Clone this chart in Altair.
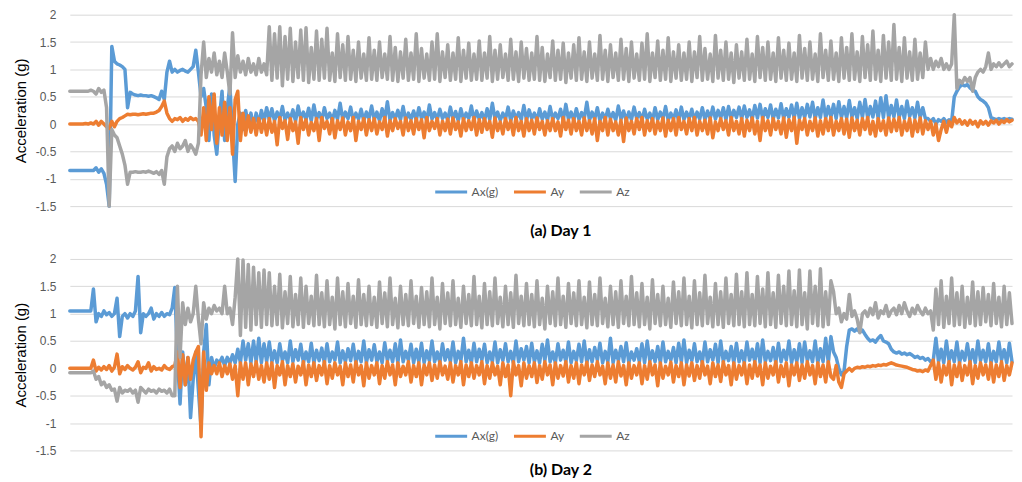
import altair as alt
import pandas as pd

# Acceleration values are typed in hundredths of g (centi-g) and converted to g.
series_names = ["Ax(g)", "Ay", "Az"]
series_colors = ["#5B9BD5", "#ED7D31", "#A5A5A5"]
y_ticks = [-1.5, -1, -0.5, 0, 0.5, 1, 1.5, 2]
panel_titles = ["(a) Day 1", "(b) Day 2"]

# ---------------- Day 1 ----------------
d1_ax_start = [
    -85, -85, -85, -85, -85, -85, -85, -85, -85, -85,
    -80, -88, -82, -90, -110, -150, 142, 115, 110, 108,
    105, 100, 30, 58, 55, 53, 52, 53, 52, 52,
    51, 52, 50, 48, 45, 60, 45, 95, 115, 95,
    100, 95, 98, 100, 97, 95, 100, 105, 135, 95,
]
d1_ax_mid = [
    50, 65, 30, -30, 55, -20, -55, 10, 60, -30, 30, 70, -20, -105, 0, 20,
    -10, 25, 0, 20, -5, 20, 0, 25, 5, 30,
]
d1_ax_band = [
    8, 28, 6, 22, 10, 32, 7, 20, 9, 26, 5, 33, 10, 22, 8, 29, 6, 35, 9, 21,
    7, 30, 10, 20, 6, 25, 9, 38, 8, 22, 10, 31, 7, 20, 9, 27, 6, 22, 10, 33,
    8, 22, 6, 28, 9, 41, 7, 21, 10, 25, 8, 32, 6, 20, 9, 24, 7, 30, 10, 22,
    6, 35, 9, 21, 8, 27, 10, 20, 7, 31, 9, 23, 6, 28, 8, 20, 10, 33, 7, 24,
    9, 21, 6, 28, 8, 38, 10, 22, 7, 20, 9, 31, 6, 24, 10, 21, 8, 34, 7, 26,
    10, 20, 6, 28, 9, 22, 7, 32, 8, 20, 10, 27, 6, 36, 9, 22, 7, 28, 8, 21,
    10, 40, 7, 22, 9, 30, 6, 20, 8, 27, 10, 21, 7, 33, 9, 24, 6, 22, 8, 31,
    10, 21, 7, 27, 9, 20, 6, 30, 8, 22, 10, 32, 7, 20, 9, 26, 6, 31, 8, 22,
    10, 27, 7, 22, 9, 30, 8, 24, 10, 31, 9, 25, 11, 30, 8, 32, 10, 25, 12, 31,
    10, 33, 12, 26, 9, 34, 11, 36, 10, 28, 12, 35, 9, 27, 11, 37, 10, 28, 12, 35,
    11, 38, 10, 30, 12, 36, 13, 40, 10, 30, 12, 44, 11, 32, 13, 36, 10, 41, 12, 32,
    11, 43, 13, 30, 10, 40, 12, 45, 11, 32, 13, 42, 10, 48, 12, 52, 11, 34, 13, 44,
    12, 32, 10, 42, 14, 30, 11, 40, 12, 30, 10,
]
d1_ax_end = [
    10, 5, 10, 0, 8, 5, 10, 3, 8, 5, 50, 60, 68, 72, 70, 72, 66,
    62, 60, 50, 45, 42, 38, 30, 12, 10, 8, 10, 8, 10, 8, 10, 9,
]

d1_ay_start = [
    0, 0, 0, 0, 0, 0, 1, 0, 2, 0,
    5, -2, 5, 0, -5, -8, 5, -5, 5, 10,
    12, 15, 18, 17, 18, 18, 17, 18, 19, 18,
    19, 20, 20, 22, 25, 32, 42, 20, 10, 5,
    10, 8, 12, 5, 10, 7, 12, 8, 10, 5,
]
d1_ay_mid = [
    -20, 30, -30, 50, -10, 55, -35, 30, -20, 40, -30, 30, -55, 45, 60, -30,
    20, -20, 15, -15, 10, -20, 10, -15, 8, -20,
]
d1_ay_band = [
    10, -15, 5, -38, 12, -8, 6, -28, 10, -12, 4, -35, 12, -10, 8, -20, 3, -12, 10, -30,
    12, -8, 5, -18, 10, -25, 6, -10, 11, -20, 4, -12, 12, -30, 5, -10, 10, -20, 8, -12,
    10, -18, 4, -10, 12, -22, 6, -12, 10, -8, 5, -20, 11, -12, 6, -18, 10, -10, 8, -25,
    12, -12, 5, -8, 10, -20, 5, -12, 9, -18, 11, -10, 4, -22, 10, -12, 6, -10, 12, -20,
    8, -15, 10, -10, 5, -24, 11, -12, 4, -18, 10, -10, 6, -20, 12, -12, 5, -22, 10, -12,
    7, -18, 11, -10, 5, -20, 6, -12, 10, -12, 4, -22, 12, -10, 7, -18, 10, -12, 5, -20,
    11, -12, 6, -18, 10, -30, 5, -12, 12, -20, 9, -12, 4, -20, 7, -32, 11, -12, 5, -18,
    10, -10, 12, -20, 6, -12, 10, -18, 5, -12, 11, -22, 7, -12, 10, -20, 12, -10, 5, -18,
    10, -12, 12, -20, 5, -12, 7, -18, 11, -25, 4, -12, 10, -10, 6, -20, 12, -12, 5, -18,
    10, -22, 7, -12, 11, -18, 5, -30, 12, -12, 6, -20, 10, -10, 5, -18, 11, -24, 8, -12,
    12, -35, 7, -10, 10, -20, 5, -12, 11, -22, 6, -18, 10, -12, 12, -20, 5, -12, 10, -18,
    9, -24, 11, -12, 7, -20, 10, -10, 12, -18, 5, -22, 10, -12, 6, -20, 11, -14, 9, -12,
    12, -20, 5, -12, 10, -22, 7, -14, 11, -18, 6,
]
d1_ay_end = [
    -10, 5, -20, 0, -30, -10, 5, -15, 5, -5, 12, 2, 8, 0, 6, -2, 7,
    0, 5, -5, 6, 0, 5, -2, 6, 2, 7, 0, 6, 3, 8, 4, 7,
]

d1_az_start = [
    60, 60, 60, 60, 60, 60, 60, 60, 62, 60,
    55, 65, 58, 62, 30, -150, -10, -20, -25, -40,
    -55, -75, -110, -88, -88, -87, -88, -88, -87, -88,
    -86, -88, -90, -87, -92, -85, -110, -60, -45, -40,
    -50, -35, -45, -40, -30, -50, -38, -45, -55, -35,
]
d1_az_mid = [
    90, 150, 85, 120, 95, 130, 90, 115, 85, 130, 95, 55, 167, 85, 125, 95,
    115, 90, 120, 95, 110, 90, 120, 95, 110, 90,
]
d1_az_band = [
    178, 80, 165, 84, 178, 70, 160, 82, 175, 78, 150, 85, 172, 80, 176, 76, 140, 82, 170, 80,
    155, 84, 175, 80, 130, 78, 165, 85, 145, 80, 160, 82, 135, 78, 150, 84, 128, 80, 158, 82,
    135, 80, 150, 85, 128, 82, 160, 80, 140, 78, 132, 84, 155, 80, 130, 82, 165, 78, 138, 84,
    128, 80, 150, 82, 165, 78, 132, 85, 145, 80, 130, 82, 158, 78, 135, 84, 148, 80, 128, 82,
    152, 80, 130, 84, 160, 78, 135, 82, 145, 85, 128, 80, 155, 82, 132, 78, 150, 84, 138, 80,
    130, 82, 160, 80, 140, 78, 128, 85, 152, 80, 135, 82, 148, 76, 130, 84, 145, 80, 158, 82,
    132, 78, 150, 84, 128, 80, 162, 82, 135, 78, 145, 85, 130, 80, 155, 82, 138, 78, 150, 84,
    128, 80, 148, 82, 165, 78, 130, 85, 152, 80, 135, 82, 158, 78, 132, 84, 145, 80, 130, 82,
    150, 78, 132, 85, 160, 80, 138, 82, 128, 78, 162, 84, 135, 80, 150, 82, 130, 76, 145, 84,
    132, 80, 155, 82, 128, 78, 160, 85, 140, 80, 150, 82, 130, 78, 158, 84, 135, 80, 148, 82,
    130, 78, 162, 84, 138, 80, 150, 82, 128, 78, 165, 85, 135, 80, 152, 82, 130, 78, 158, 84,
    140, 80, 165, 82, 132, 78, 160, 85, 145, 80, 170, 82, 135, 78, 162, 84, 150, 80, 182, 82,
    140, 78, 158, 84, 132, 80, 155, 82, 130, 85, 150,
]
d1_az_end = [
    100, 120, 100, 115, 105, 120, 100, 110, 100, 110, 200, 65, 80, 75, 85, 78, 85,
    60, 85, 95, 100, 95, 105, 130, 100, 110, 105, 112, 105, 110, 115, 105, 110,
]

# ---------------- Day 2 ----------------
d2_ax_start = [
    105, 105, 105, 105, 105, 105, 105, 105, 105, 145,
    85, 100, 95, 105, 98, 102, 95, 100, 128, 58,
    95, 100, 92, 100, 95, 105, 168, 65, 100, 95,
    100, 110, 90, 100, 95, 102, 95, 100, 98, 110,
    148, 20, -65, 30, -30, 20, -90, -20, 30, -40,
]
d2_ax_mid = [
    -108, 30, 80, -30, 20, 0, 15, 10, 20, 5, 20, 10, 25, 10, 35, 10,
    50, 15, 45, 10, 50, 12, 55, 10, 45, 12,
]
d2_ax_band = [
    48, 12, 32, 10, 45, 14, 30, 10, 50, 12, 34, 15, 44, 10, 30, 12, 46, 10, 33, 14,
    37, 10, 45, 12, 30, 15, 48, 10, 32, 12, 36, 14, 44, 10, 31, 12, 50, 10, 34, 15,
    43, 12, 30, 10, 47, 14, 33, 12, 45, 10, 52, 12, 31, 15, 44, 10, 35, 12, 46, 10,
    32, 14, 50, 12, 30, 10, 45, 15, 34, 12, 48, 10, 31, 14, 55, 12, 33, 10, 46, 12,
    35, 15, 44, 10, 30, 12, 48, 10, 34, 14, 45, 12, 31, 10, 50, 12, 36, 15, 40, 10,
    46, 12, 32, 10, 44, 14, 52, 12, 30, 10, 45, 15, 33, 12, 48, 10, 31, 14, 44, 12,
    50, 10, 34, 12, 38, 15, 46, 10, 31, 12, 55, 10, 33, 14, 40, 12, 47, 10, 30, 15,
    36, 12, 45, 10, 50, 14, 32, 12, 40, 10, 48, 12, 31, 15, 38, 10, 46, 12, 52, 10,
    33, 14, 45, 12, 30, 10, 48, 12, 34, 15, 44, 10, 50, 12, 31, 14, 40, 10, 46, 12,
    32, 10, 48, 15, 35, 12, 45, 10, 52, 12, 31, 14, 38, 10, 46, 12, 33, 15, 50, 10,
    34, 12, 45, 10, 48, 14, 32, 12, 50, 10, 36, 12, 55, 10, 58,
]
d2_ax_calm = [
    30, 20, 0, -12, -5, 40, 70, 72, 68, 72, 66, 70, 62, 55, 50, 52, 48, 55, 60, 50,
    48, 45, 35, 30, 28, 30, 26, 28, 25, 27, 24, 20, 22, 18, 20, 15, 18, 12, 15,
]
d2_ax_end = [
    55, 12, 35, 10, 50, 14, 32, 12, 48, 10, 31, 15, 45, 12, 34,
    10, 50, 14, 33, 12, 45, 10, 31, 12, 48, 15, 34, 10, 46, 12,
]

d2_ay_start = [
    0, 0, 0, 0, 0, 0, 0, 0, 0, 15,
    -5, 2, -3, 3, -2, 5, -5, 2, 26, -10,
    3, -2, 5, 0, -3, 2, 12, -8, 2, 0,
    10, -5, 3, -2, 0, -3, 5, 0, -2, 3,
    5, 30, -35, 25, -30, 20, -20, 15, 30, 40,
]
d2_ay_mid = [
    -125, 30, -40, 10, -10, 5, -10, 10, -15, 5, -10, 8, -20, 5, -50, 10,
    -20, 10, -30, 8, -15, 12, -20, 5, -25, 10,
]
d2_ay_band = [
    -20, 10, -35, 5, -12, 12, -30, 5, -15, 8, -25, 4, -12, 12, -30, 6, -15, 10, -22, 5,
    -12, 12, -28, 5, -18, 10, -12, 4, -30, 10, -15, 6, -25, 12, -12, 5, -32, 10, -18, 5,
    -12, 10, -28, 5, -18, 12, -12, 6, -30, 10, -15, 4, -12, 12, -25, 5, -15, 10, -30, 6,
    -12, 10, -22, 6, -18, 12, -12, 4, -20, 10, -25, 5, -12, 12, -30, 6, -15, 10, -18, 5,
    -12, 12, -28, 5, -18, 10, -12, 4, -30, 10, -15, 6, -50, 12, -12, 5, -32, 10, -18, 5,
    -15, 10, -26, 5, -20, 12, -12, 6, -30, 10, -18, 5, -14, 12, -25, 5, -18, 10, -28, 6,
    -12, 11, -22, 6, -15, 12, -12, 4, -28, 10, -18, 6, -25, 12, -14, 5, -30, 10, -18, 5,
    -12, 10, -28, 5, -20, 12, -12, 6, -32, 10, -18, 4, -12, 11, -25, 5, -15, 10, -30, 6,
    -14, 10, -22, 5, -18, 12, -12, 4, -28, 10, -15, 6, -24, 12, -12, 5, -30, 10, -20, 5,
    -12, 10, -28, 6, -18, 12, -14, 6, -30, 10, -18, 4, -12, 12, -25, 5, -15, 10, -32, 6,
    -12, 10, -22, 6, -18, 12, -12, 5, -28, 10, -15, 6, -25, 12, -15,
]
d2_ay_calm = [
    -20, 5, -25, -35, -10, -5, 0, -5, 0, 2, 1, 3, 2, 4, 3, 5, 4, 6, 5, 7,
    6, 8, 10, 8, 6, 5, 4, 3, 2, 0, -2, -3, -5, -4, -6, -3, -5, 5, 15,
]
d2_ay_end = [
    -20, 10, -25, 5, -12, 12, -30, 6, -15, 10, -22, 5, -12, 12, -28,
    5, -18, 10, -12, 6, -20, 10, -25, 6, -15, 12, -22, 5, -12, 10,
]

d2_az_start = [
    -8, -8, -8, -8, -8, -8, -8, -8, -8, -5,
    -20, -15, -30, -25, -35, -30, -40, -38, -60, -35,
    -45, -40, -42, -38, -45, -40, -62, -35, -40, -45,
    -38, -42, -40, -45, -38, -42, -40, -45, -38, -50,
    -50, 150, 20, 120, 80, 110, 85, 100, 150, 90,
]
d2_az_mid = [
    45, 120, 90, 110, 100, 115, 105, 110, 100, 150, 100, 110, 80, 130, 200, 60,
    198, 75, 190, 70, 185, 80, 175, 75, 180, 80,
]
d2_az_band = [
    175, 78, 150, 80, 172, 74, 140, 82, 168, 76, 135, 80, 165, 75, 150, 82, 132, 78, 170, 80,
    138, 76, 160, 80, 130, 72, 165, 80, 140, 76, 155, 82, 132, 75, 162, 80, 135, 78, 150, 80,
    130, 75, 158, 82, 138, 76, 165, 80, 128, 74, 150, 80, 135, 78, 160, 82, 132, 75, 148, 80,
    140, 76, 165, 80, 130, 72, 155, 82, 138, 78, 160, 80, 128, 75, 150, 82, 135, 78, 168, 80,
    132, 74, 155, 80, 140, 78, 165, 82, 130, 76, 150, 80, 138, 75, 170, 82, 132, 78, 155, 80,
    135, 76, 160, 80, 128, 72, 150, 82, 140, 78, 165, 80, 132, 75, 155, 82, 138, 78, 160, 80,
    130, 74, 158, 80, 135, 78, 165, 82, 128, 76, 150, 80, 140, 75, 160, 82, 132, 78, 168, 80,
    138, 76, 155, 80, 130, 72, 162, 82, 135, 78, 150, 80, 128, 75, 158, 82, 140, 78, 165, 80,
    132, 74, 160, 80, 138, 78, 170, 82, 130, 76, 155, 80, 140, 75, 165, 82, 135, 78, 172, 80,
    140, 76, 175, 80, 135, 78, 168, 82, 145, 76, 175, 80, 138, 75, 170, 82, 150, 78, 178, 80,
    142, 76, 180, 80, 138, 72, 178, 82, 150, 78, 182, 76, 140, 80, 160,
]
d2_az_calm = [
    140, 100, 110, 85, 100, 90, 135, 95, 105, 90, 65, 100, 105, 95, 110, 98, 120, 92, 105, 100,
    115, 95, 105, 110, 98, 115, 100, 120, 105, 95, 110, 100, 115, 105, 98, 110, 100, 105, 70,
]
d2_az_end = [
    145, 80, 160, 75, 132, 82, 165, 78, 138, 80, 150, 75, 130, 82, 158,
    78, 140, 80, 148, 85, 135, 78, 155, 82, 130, 76, 150, 80, 138, 82,
]

day1 = [
    d1_ax_start + d1_ax_mid + d1_ax_band + d1_ax_end,
    d1_ay_start + d1_ay_mid + d1_ay_band + d1_ay_end,
    d1_az_start + d1_az_mid + d1_az_band + d1_az_end,
]
day2 = [
    d2_ax_start + d2_ax_mid + d2_ax_band + d2_ax_calm + d2_ax_end,
    d2_ay_start + d2_ay_mid + d2_ay_band + d2_ay_calm + d2_ay_end,
    d2_az_start + d2_az_mid + d2_az_band + d2_az_calm + d2_az_end,
]
lens = [[len(s) for s in d] for d in (day1, day2)]
assert all(n == 360 for d in lens for n in d), str(lens)


def panel(series, title_text, title_offset):
    rows = []
    for name, vals in zip(series_names, series):
        for i, v in enumerate(vals):
            rows.append({"t": i, "series": name, "value": v / 100.0})
    df = pd.DataFrame(rows)
    n_last = max(len(s) for s in series) - 1
    return (
        alt.Chart(df)
        .mark_line(strokeWidth=3.5, strokeJoin="round", strokeCap="round")
        .encode(
            x=alt.X("t:Q", axis=None,
                    scale=alt.Scale(domain=[0, n_last], nice=False, zero=False)),
            y=alt.Y("value:Q",
                    scale=alt.Scale(domain=[-1.5, 2], nice=False),
                    axis=alt.Axis(values=y_ticks, title="Acceleration (g)",
                                  labelExpr="'' + datum.value")),
            color=alt.Color(
                "series:N",
                sort=series_names,
                scale=alt.Scale(domain=series_names, range=series_colors),
                legend=alt.Legend(
                    orient="none", legendX=365, legendY=160,
                    direction="horizontal", title=None,
                    symbolType="stroke", symbolSize=1024,
                    symbolStrokeWidth=3, labelFont="Lato",
                    labelFontSize=12, labelColor="#595959",
                    columnPadding=9, labelOffset=3, padding=0,
                ),
            ),
        )
        .properties(
            width=945,
            height=192,
            title=alt.TitleParams(
                title_text, orient="bottom", anchor="middle", dx=20,
                font="Lato", fontSize=16, fontWeight="bold",
                color="#000000", offset=title_offset,
            ),
        )
    )


chart = (
    alt.vconcat(panel(day1, panel_titles[0], 11),
                panel(day2, panel_titles[1], 6),
                spacing=14)
    .resolve_legend(color="independent")
    .properties(padding={"left": 5, "top": 0, "right": 0, "bottom": 0},
                background="white")
    .configure_view(stroke=None)
    .configure_axis(
        grid=True, gridColor="#D9D9D9", gridWidth=1,
        domain=False, ticks=False,
        labelFont="Liberation Sans", labelFontSize=12, labelColor="#595959",
        labelPadding=14,
        titleFont="Liberation Sans", titleFontSize=15, titleColor="#000000",
        titleFontWeight="normal", titlePadding=7,
    )
)

chart.save("out.html", embed_options={"renderer": "svg", "actions": False})
